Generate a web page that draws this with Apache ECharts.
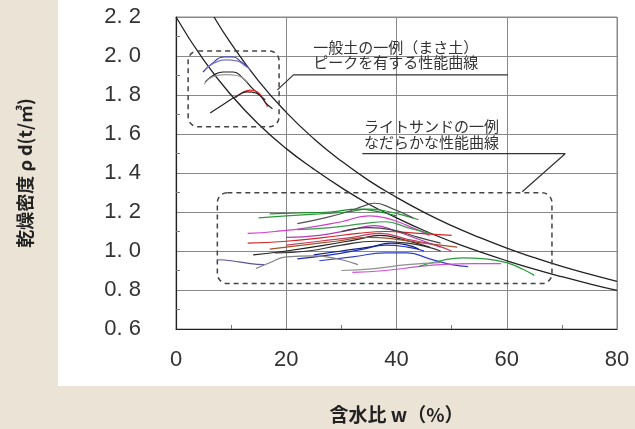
<!DOCTYPE html>
<html>
<head>
<meta charset="utf-8">
<script src="https://cdn.jsdelivr.net/npm/echarts@6/dist/echarts.min.js"></script>
<style>
html,body{margin:0;padding:0;background:#ebe4d6;}
#c{width:635px;height:429px;}
</style>
</head>
<body>
<div id="c"></div>
<script>
// ---- data (w %, rho_d t/m3) ----
const xTicks = [0, 20, 40, 60, 80];
const yTicks = [0.6, 0.8, 1.0, 1.2, 1.4, 1.6, 1.8, 2.0, 2.2];

// saturation curves
const curveLow = [[0,2.2],[5,1.98],[10,1.80],[15,1.65],[20,1.525],[25,1.42],[30,1.325],[35,1.24],[40,1.17],[45,1.105],[50,1.048],[55,0.997],[60,0.95],[65,0.907],[70,0.868],[75,0.832],[80,0.798]];
const curveHigh = [[6.9,2.2],[10,2.063],[15,1.871],[20,1.711],[25,1.576],[30,1.461],[35,1.361],[40,1.275],[45,1.198],[50,1.13],[55,1.07],[60,1.015],[65,0.966],[70,0.921],[75,0.881],[80,0.844]];

// general soil (peaked) curves
const soilA = [[4.9,1.918],[6.5,1.96],[8.6,1.995],[10.4,1.995],[11.8,1.97],[12.9,1.944]];
const soilB = [[5.3,1.93],[7,1.965],[9,1.98],[11,1.975],[12.5,1.95],[13.5,1.93]];
const soilC = [[5.3,1.867],[7,1.905],[8.6,1.918],[10.4,1.918],[12,1.89],[14,1.83],[16.2,1.775]];
const soilD = [[5.1,1.855],[6.8,1.895],[9,1.905],[11,1.9],[13,1.865]];
const soilE = [[10.8,1.785],[12.2,1.815],[13.5,1.825],[14.8,1.815],[16,1.77],[16.6,1.74]];
const soilF = [[6.2,1.708],[8.5,1.75],[11.1,1.796],[12.9,1.816],[14.5,1.81],[16.6,1.75],[17.5,1.73]];

// light sand (gentle) curves
const sand01 = [[15,1.17],[20,1.18],[26,1.19],[31,1.2],[35,1.215],[38,1.205],[41,1.185],[44,1.16]];
const sand02 = [[17,1.19],[22,1.195],[28,1.2],[33,1.215],[37,1.2],[40,1.18]];
const sand03 = [[22,1.14],[27,1.17],[31,1.2],[34,1.23],[36,1.245],[39,1.22],[43,1.17]];
const sand04 = [[13,1.09],[18,1.1],[24,1.12],[30,1.15],[35,1.18],[38,1.17],[42,1.13],[46,1.08]];
const sand05 = [[20,1.07],[26,1.08],[32,1.11],[36,1.13],[40,1.1],[44,1.06],[48,1.02]];
const sand06 = [[13,1.04],[20,1.05],[27,1.07],[33,1.09],[38,1.1],[44,1.09],[50,1.08]];
const sand07 = [[14,0.98],[20,1.0],[27,1.03],[33,1.06],[37,1.08],[41,1.06],[46,1.02]];
const sand08 = [[17,1.01],[23,1.03],[29,1.05],[35,1.07],[40,1.06],[45,1.04],[51,1.02]];
const sand09 = [[22,1.11],[28,1.12],[34,1.14],[38,1.15],[42,1.12],[46,1.09]];
const sand10 = [[18,0.99],[24,1.0],[30,1.03],[36,1.05],[42,1.04],[48,1.0]];
const sand11 = [[22,0.96],[28,0.98],[34,1.01],[38,1.03],[42,1.02],[45,1.0]];
const sand12 = [[25,0.98],[30,1.0],[35,1.02],[39,1.04],[42,1.03],[44,1.01]];
const sand13 = [[26,0.95],[32,0.97],[38,0.99],[42,0.99],[46,0.96],[50,0.93],[53,0.92]];
const sand14 = [[7.5,0.955],[10,0.95],[13.5,0.935],[16,0.93]];
const sand15 = [[14.5,0.91],[17,0.94],[20,0.97],[25,0.975],[30,0.955],[33,0.93]];
const sand16 = [[32,0.89],[38,0.9],[44,0.92],[48,0.93],[54,0.935],[59,0.935]];
const sand17 = [[44,0.92],[48,0.95],[52,0.965],[56,0.96],[60,0.94],[63,0.905],[65,0.875]];
const sand18 = [[30,0.9],[36,0.91],[42,0.93],[48,0.94]];
const sand19 = [[30,1.1],[35,1.12],[39,1.11],[44,1.07],[48,1.04]];
const sand20 = [[20,1.03],[26,1.05],[32,1.07],[37,1.09],[42,1.06],[47,1.03],[50,1.0]];

// annotation geometry in data units
const boxes = [[2.2, 2.026, 18.7, 1.637], [7.5, 1.299, 68.2, 0.833]];
const leader1 = [[18.4,1.826],[21.3,1.903],[60.2,1.903]];
const leader2 = [[33.8,1.499],[70.6,1.499],[62.8,1.304]];
const noteTexts = ['一般土の一例（まさ土）', 'ピークを有する性能曲線', 'ライトサンドの一例', 'なだらかな性能曲線'];
const notePos = [[24.9,2.046],[24.9,1.968],[34.1,1.642],[34.1,1.560]];

// ---- build ----
const soilSet = [
  [soilA,'#3a3ac8'],[soilB,'#7a78b8'],[soilC,'#222222'],[soilD,'#9a9a9a'],[soilE,'#e02828'],[soilF,'#222222']
];
const sandSet = [
  [sand01,'#2a9a3a'],[sand02,'#1f8a2f'],[sand03,'#555555'],[sand04,'#d040d0'],[sand05,'#b03cb8'],
  [sand06,'#d02828'],[sand07,'#222222'],[sand08,'#a0522d'],[sand09,'#3a9a4a'],[sand10,'#333333'],
  [sand11,'#2030c0'],[sand12,'#102080'],[sand13,'#3040c8'],[sand14,'#6050a0'],[sand15,'#808080'],
  [sand16,'#d050d8'],[sand17,'#2a9a3a'],[sand18,'#909090'],[sand19,'#444444'],[sand20,'#c04060']
];
const FONT = '"Noto Sans CJK JP", sans-serif';
const series = [];
function addLine(d, color, w, smooth){
  series.push({type:'line', data:d, smooth:smooth, showSymbol:false, symbol:'none', silent:true,
    lineStyle:{color:color, width:w}, z:3});
}
addLine(curveLow, '#222', 1.3, true);
addLine(curveHigh, '#222', 1.3, true);
soilSet.forEach(s => addLine(s[0], s[1], 1.2, true));
sandSet.forEach(s => addLine(s[0], s[1], 1.2, true));
addLine(leader1, '#333', 1.2, false);
addLine(leader2, '#333', 1.2, false);
series.push({
  type:'custom', silent:true, z:4,
  dimensions:['x1','y1','x2','y2'],
  encode:{x:[0,2], y:[1,3]},
  data: boxes,
  renderItem(params, api){
    const p1 = api.coord([api.value(0), api.value(1)]);
    const p2 = api.coord([api.value(2), api.value(3)]);
    return {type:'rect', shape:{x:p1[0], y:p1[1], width:p2[0]-p1[0], height:p2[1]-p1[1], r:10},
      style:{fill:null, stroke:'#444', lineWidth:1.5, lineDash:[5,4]}};
  }
});
series.push({
  type:'custom', silent:true, z:5,
  encode:{x:0, y:1},
  data: notePos,
  renderItem(params, api){
    const p = api.coord([api.value(0), api.value(1)]);
    return {type:'text', x:p[0], y:p[1],
      style:{text:noteTexts[params.dataIndex], fontSize:15, fontFamily:FONT, fill:'#333', verticalAlign:'middle', align:'left'}};
  }
});

const chart = echarts.init(document.getElementById('c'));
chart.setOption({
  animation:false,
  backgroundColor:'#ebe4d6',
  graphic:[{type:'rect', z:-10, shape:{x:58, y:0, width:577, height:386}, style:{fill:'#ffffff'}}],
  grid:{left:176, right:18, top:17, bottom:100, show:true, borderColor:'#888', borderWidth:1,
    backgroundColor:'transparent', containLabel:false, outerBoundsMode:'none'},
  xAxis:{
    type:'value', min:xTicks[0], max:xTicks[xTicks.length-1], interval:20,
    name:'含水比 w（%）', nameLocation:'middle', nameGap:76,
    nameTextStyle:{fontFamily:FONT, fontSize:19, fontWeight:'bold', color:'#222'},
    axisLine:{show:true, lineStyle:{color:'#222', width:1.2}},
    axisTick:{show:false, inside:true},
    minorTick:{show:true, splitNumber:2, length:4, lineStyle:{color:'#777'}},
    splitLine:{show:true, lineStyle:{color:'#888', width:1}},
    axisLabel:{fontFamily:'"Liberation Sans", sans-serif', fontSize:22, color:'#333', margin:20}
  },
  yAxis:{
    type:'value', min:yTicks[0], max:yTicks[yTicks.length-1], interval:0.2,
    name:'乾燥密度 ρ d(t/㎥)', nameLocation:'middle', nameGap:142, nameRotate:90,
    nameTextStyle:{fontFamily:FONT, fontSize:18, fontWeight:'bold', color:'#222'},
    axisLine:{show:true, lineStyle:{color:'#222', width:1.2}},
    axisTick:{show:false, inside:true},
    minorTick:{show:true, splitNumber:2, length:4, lineStyle:{color:'#777'}},
    splitLine:{show:true, lineStyle:{color:'#888', width:1}},
    axisLabel:{fontFamily:'"Liberation Sans", sans-serif', fontSize:22, color:'#333', margin:35,
      formatter:v => v.toFixed(1).replace('.', '. ')}
  },
  series:series
});
</script>
</body>
</html>
